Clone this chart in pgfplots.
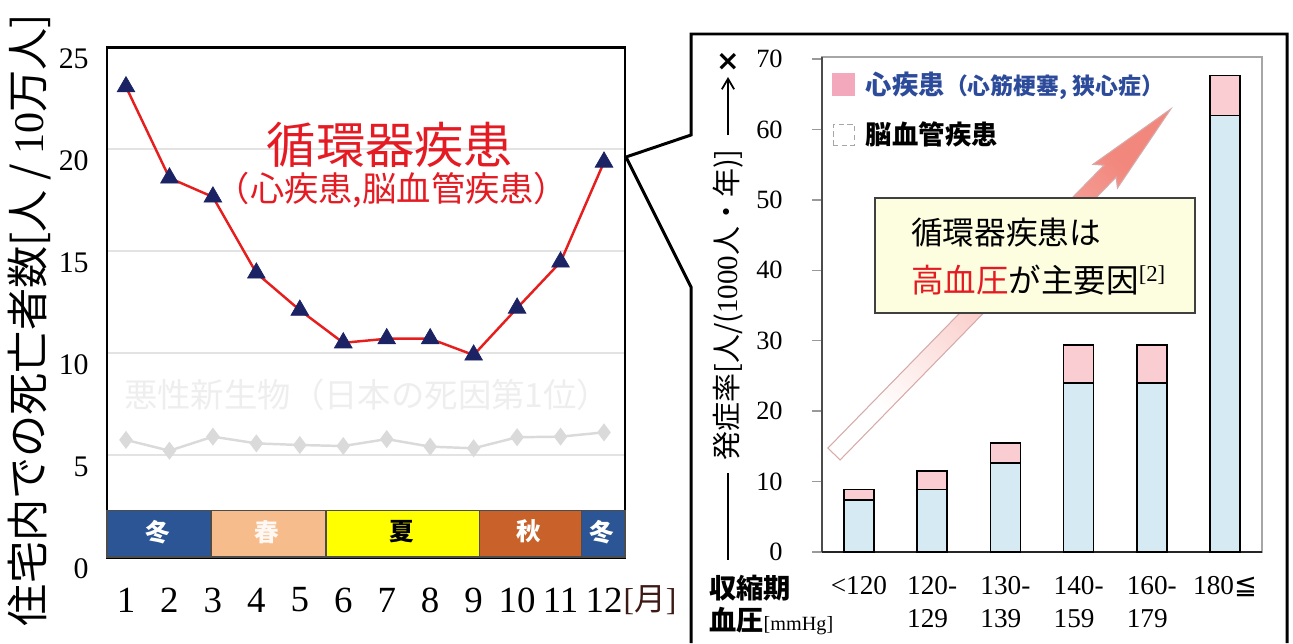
\documentclass[border=0pt]{standalone}
\usepackage{pgfplots}
\pgfplotsset{compat=1.18}
\usepackage{fontspec}
\usepackage{graphicx}
\usetikzlibrary{arrows.meta}
\setmainfont{Liberation Serif}
\newfontfamily\cjk{Noto Sans CJK JP}
\newfontfamily\djv{DejaVu Sans}

\definecolor{winter}{RGB}{43,85,148}
\definecolor{spring}{RGB}{246,188,140}
\definecolor{summer}{RGB}{255,255,0}
\definecolor{autumn}{RGB}{200,97,42}
\definecolor{linered}{RGB}{230,30,30}
\definecolor{navy}{RGB}{27,35,100}
\definecolor{titlered}{RGB}{228,27,35}
\definecolor{faint}{RGB}{218,218,218}
\definecolor{fainttext}{RGB}{238,238,238}
\definecolor{barblue}{RGB}{214,234,244}
\definecolor{barpink}{RGB}{250,205,210}
\definecolor{legpink}{RGB}{244,168,188}
\definecolor{legblue}{RGB}{45,75,155}
\definecolor{notebg}{RGB}{253,253,224}
\definecolor{arrowpink}{RGB}{242,135,125}
\definecolor{monthbrown}{RGB}{60,25,20}

\begin{document}
\begin{tikzpicture}

% ---- left: deaths at home by month
\begin{axis}[
    at={(2.14cm,1.72cm)}, anchor=south west,
    scale only axis, width=10.36cm, height=10.2cm,
    xmin=0.563, xmax=12.483, ymin=0, ymax=25,
    xtick={1,...,12}, ytick={0,5,...,25},
    major tick length=0pt,
    ymajorgrids, grid style={gray!22, line width=1.2pt},
    axis line style={black, line width=1.7pt},
    /pgf/number format/assume math mode=true,
    xticklabel style={anchor=center, yshift=-0.86cm, font=\fontsize{21}{21}\selectfont},
    yticklabel style={anchor=east, inner sep=0pt, xshift=-0.36cm, yshift=-0.24cm, font=\fontsize{17}{17}\selectfont},
    clip=false,
]
% seasons band
\addplot[fill=winter, draw=black!70, line width=0.6pt] coordinates {(0.563,0) (0.563,2.3) (2.956,2.3) (2.956,0)} -- cycle;
\addplot[fill=spring, draw=black!70, line width=0.6pt] coordinates {(2.956,0) (2.956,2.3) (5.603,2.3) (5.603,0)} -- cycle;
\addplot[fill=summer, draw=black!70, line width=0.6pt] coordinates {(5.603,0) (5.603,2.3) (9.124,2.3) (9.124,0)} -- cycle;
\addplot[fill=autumn, draw=black!70, line width=0.6pt] coordinates {(9.124,0) (9.124,2.3) (11.472,2.3) (11.472,0)} -- cycle;
\addplot[fill=winter, draw=black!70, line width=0.6pt] coordinates {(11.472,0) (11.472,2.3) (12.483,2.3) (12.483,0)} -- cycle;

% malignant neoplasm (faded)
\addplot[faint, line width=1.4pt, mark=diamond*, mark size=4pt, mark options={fill=faint, draw=faint}]
  coordinates {(1,5.74) (2,5.21) (3,5.9) (4,5.57) (5,5.49) (6,5.44) (7,5.78) (8,5.41) (9,5.33) (10,5.87) (11,5.9) (12,6.11)};

% circulatory diseases
\addplot[linered, line width=1.4pt, mark=triangle*, mark size=5.8pt, mark options={fill=navy, draw=navy, line width=0.4pt}]
  coordinates {(1,23.05) (2,18.58) (3,17.65) (4,13.92) (5,12.1) (6,10.5) (7,10.7) (8,10.7) (9,9.9) (10,12.2) (11,14.46) (12,19.36)};

\node[font=\cjk\bfseries\fontsize{14}{14}\selectfont, text=white] at (axis cs:1.74,1.24) {冬};
\node[font=\cjk\bfseries\fontsize{14}{14}\selectfont, text=white!90!spring] at (axis cs:4.24,1.24) {春};
\node[font=\cjk\bfseries\fontsize{14}{14}\selectfont, text=black] at (axis cs:7.35,1.24) {夏};
\node[font=\cjk\bfseries\fontsize{14}{14}\selectfont, text=white] at (axis cs:10.28,1.24) {秋};
\node[font=\cjk\bfseries\fontsize{14}{14}\selectfont, text=white] at (axis cs:11.96,1.24) {冬};
\node[font=\cjk\fontsize{19}{19}\selectfont, text=fainttext] at (axis cs:6.55,7.94) {悪性新生物（日本の死因第1位）};
\end{axis}

% ---- right: incidence by systolic blood pressure
\begin{axis}[
    at={(16.44cm,1.82cm)}, anchor=south west,
    scale only axis, width=8.8cm, height=9.9cm,
    xmin=-0.505, xmax=5.505, ymin=0, ymax=70.3,
    ybar stacked, bar width=0.6cm,
    xtick={0,...,5},
    xticklabels={{<120},{120-\\129},{130-\\139},{140-\\159},{160-\\179},{180{\djv ≦}}},
    ytick={0,10,...,70},
    ytick pos=left, tick align=outside, major tick length=0.2cm,
    major x tick style={draw=none},
    y tick style={gray!80, line width=0.8pt},
    axis line style={gray!70, line width=0.8pt},
    /pgf/number format/assume math mode=true,
    yticklabel style={anchor=east, inner sep=0pt, xshift=-0.58cm, font=\fontsize{15}{15}\selectfont},
    xticklabel style={anchor=north, align=left, inner sep=0pt, yshift=-0.28cm, font=\fontsize{15.5}{19}\selectfont},
    legend style={at={(axis description cs:0,1)}, anchor=north west, xshift=0.2cm, yshift=-0.22cm,
        draw=none, fill=none, inner sep=0pt, row sep=0.36cm, font=\cjk\bfseries\fontsize{15}{15}\selectfont,
        cells={anchor=west}},
    reverse legend,
    clip=false,
]
\addplot[fill=barblue, draw=black, line width=0.9pt,
    legend image code/.code={\draw[gray!70, densely dashed, fill=white, line width=0.6pt] (0cm,-0.21cm) rectangle (0.42cm,0.21cm);}]
  coordinates {(0,7.4) (1,8.9) (2,12.6) (3,24.0) (4,24.0) (5,62.0)};
\addlegendentry{\hspace{0.15cm}脳血管疾患}
\addplot[fill=barpink, draw=black, line width=0.9pt,
    legend image code/.code={\fill[legpink] (0cm,-0.21cm) rectangle (0.42cm,0.21cm);}]
  coordinates {(0,1.5) (1,2.6) (2,2.9) (3,5.4) (4,5.4) (5,5.7)};
\addlegendentry{\hspace{0.15cm}\textcolor{legblue}{心疾患{\fontsize{13}{13}\selectfont（心筋梗塞, 狭心症）}}}
\draw[black!85, line width=1.2pt] (rel axis cs:0,0) -- (rel axis cs:1,0);
\draw[black!70, line width=0.9pt] (rel axis cs:0,0) -- (rel axis cs:0,1);
\end{axis}

% rising arrow
\shade[left color=white, right color=arrowpink, shading angle=135, draw={rgb,255:red,215;green,170;blue,170}, line width=0.6pt]
  (16.802,3.661) -- (22.324,9.318) -- (22.348,9.098) -- (23.418,10.682) -- (21.86,9.574) -- (22.08,9.555) -- (16.558,3.899) -- cycle;

% note box
\draw[fill=notebg, draw=black!75, line width=1.1pt] (17.5,8.9) rectangle (23.9,6.6);
\node[anchor=west, font=\cjk\fontsize{18}{18}\selectfont] at (18.1,8.2) {循環器疾患は};
\node[anchor=west, font=\cjk\fontsize{18.5}{18.5}\selectfont] at (18.1,7.26)
  {\textcolor{titlered}{高血圧}が主要因\textsuperscript{\rmfamily [2]}};

% left titles and labels
\node[text=titlered, font=\cjk\fontsize{28}{28}\selectfont] at (7.8,9.96) {循環器疾患};
\node[text=titlered, font=\cjk\fontsize{19.5}{19.5}\selectfont] at (7.84,9.06) {（心疾患,脳血管疾患）};
\node[rotate=90, font=\cjk\fontsize{24}{24}\selectfont] at (0.6,6.46) {住宅内での死亡者数[人 / {\rmfamily 10}万人]};
\node[text=monthbrown, font=\fontsize{18}{18}\selectfont] at (13.0,0.86) {[{\cjk 月}]};

% right labels
\node[rotate=90, font=\cjk\fontsize{16.5}{16.5}\selectfont] at (14.56,6.76) {発症率[人/({\rmfamily 1000}人・年)]};
\draw[line width=1pt] (14.56,3.40) -- (14.56,1.66);
\draw[line width=1pt, -{Straight Barb[length=6pt, width=7pt]}] (14.56,10.16) -- (14.56,11.32);
\node[font=\djv\bfseries\fontsize{16}{16}\selectfont] at (14.56,11.62) {×};
\node[anchor=west, font=\cjk\bfseries\fontsize{15.5}{15.5}\selectfont] at (14.06,1.10) {収縮期};
\node[anchor=west] at (14.06,0.44) {{\cjk\bfseries\fontsize{15.5}{15.5}\selectfont 血圧}{\fontsize{11.5}{11.5}\selectfont[mmHg]}};

% callout frame
\draw[line width=1.7pt, line join=miter] (13.82,0) -- (13.82,7.12) -- (12.52,9.72) -- (13.82,10.16) -- (13.82,12.18) -- (25.74,12.18) -- (25.74,0);

\pgfresetboundingbox
\useasboundingbox (0,0) rectangle (25.86,12.86);
\end{tikzpicture}
\end{document}
